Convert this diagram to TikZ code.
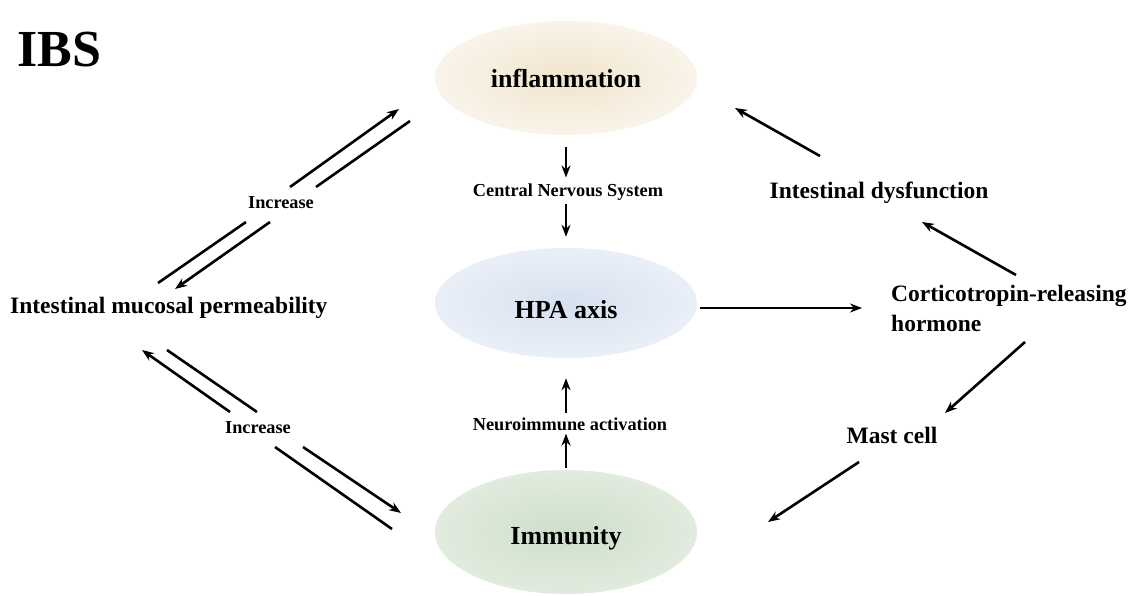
\documentclass[tikz,border=0pt]{standalone}
\usepackage{fontspec}
\setmainfont{Liberation Serif}
\usetikzlibrary{shapes.geometric,arrows.meta}
\definecolor{inflin}{RGB}{241,228,204}
\definecolor{inflout}{RGB}{249,244,234}
\definecolor{hpain}{RGB}{214,225,239}
\definecolor{hpaout}{RGB}{234,239,247}
\definecolor{immin}{RGB}{206,223,201}
\definecolor{immout}{RGB}{225,235,222}
\begin{document}
\begin{tikzpicture}[x=1pt,y=-1pt,
  arr/.style={line width=2.6pt,-{Stealth[length=12pt,width=9pt]}},
  ln/.style={line width=2.6pt},
  big/.style={font=\bfseries\fontsize{26}{30}\selectfont},
  side/.style={font=\bfseries\fontsize{23.5}{30}\selectfont,inner sep=0pt},
  small/.style={font=\bfseries\fontsize{18.3}{22}\selectfont,inner sep=0pt},
  oval/.style={ellipse,minimum width=262pt,minimum height=114pt,inner sep=0pt,shading=radial,big}]
\useasboundingbox (0,0) rectangle (1131,596);

% nodes
\node[font=\bfseries\fontsize{52}{60}\selectfont,inner sep=0pt,anchor=west] (ibs) at (17,50) {IBS};
\node[oval,inner color=inflin,outer color=inflout,text height=22pt,text depth=2pt] (infl) at (566,78) {inflammation};
\node[oval,inner color=hpain,outer color=hpaout,text height=33pt,text depth=2pt,minimum height=110pt] (hpa) at (566,303) {HPA axis};
\node[oval,inner color=immin,outer color=immout,text height=27pt,text depth=2pt,minimum height=124pt] (imm) at (566,532) {Immunity};
\node[small] (cns) at (568,192) {Central Nervous System};
\node[small] (neu) at (570,424) {Neuroimmune activation};
\node[side] (idys) at (879,193) {Intestinal dysfunction};
\node[side,align=left,anchor=west] (crh) at (891,308) {Corticotropin-releasing\\hormone};
\node[side] (mast) at (892,435) {Mast cell};
\node[side,anchor=west] (imp) at (10,308) {Intestinal mucosal permeability};
\node[small] (inc1) at (281,203) {Increase};
\node[small] (inc2) at (258,428) {Increase};

% central vertical arrows
\draw[arr,shorten <=12pt,shorten >=6pt] (infl.south) -- (infl.south |- cns.north);
\draw[arr,shorten <=3pt,shorten >=11pt] (infl.south |- cns.south) -- (hpa.north);
\draw[arr,shorten <=2pt,shorten >=3pt] (imm.north) -- (imm.north |- neu.south);
\draw[arr,shorten <=4pt,shorten >=20pt] (imm.north |- neu.north) -- (hpa.south);

% HPA to CRH
\draw[arr,shorten <=3pt,shorten >=29pt] ([yshift=-5pt]hpa.east) -- (crh.west);

% right side arrows
\coordinate (c1) at (820,156); \coordinate (c2) at (735,108);
\coordinate (c3) at (1016,275); \coordinate (c4) at (922,222);
\coordinate (c5) at (1025,342); \coordinate (c6) at (945,413);
\coordinate (c7) at (859,462); \coordinate (c8) at (768,522);
\draw[arr] (c1) -- (c2);
\draw[arr] (c3) -- (c4);
\draw[arr] (c5) -- (c6);
\draw[arr] (c7) -- (c8);

% left upper pair
\coordinate (u1a) at (158,283); \coordinate (u1b) at (246,222);
\coordinate (u1c) at (290,187); \coordinate (u1d) at (399,109);
\coordinate (u2a) at (410,121); \coordinate (u2b) at (316,187);
\coordinate (u2c) at (270,222); \coordinate (u2d) at (175,289);
\draw[ln] (u1a) -- (u1b);
\draw[arr] (u1c) -- (u1d);
\draw[ln] (u2a) -- (u2b);
\draw[arr] (u2c) -- (u2d);

% left lower pair
\coordinate (laa) at (392,529); \coordinate (lab) at (275,447);
\coordinate (lac) at (230,412); \coordinate (lad) at (142,350);
\coordinate (lba) at (167,350); \coordinate (lbb) at (257,412);
\coordinate (lbc) at (303,447); \coordinate (lbd) at (401,513);
\draw[ln] (laa) -- (lab);
\draw[arr] (lac) -- (lad);
\draw[ln] (lba) -- (lbb);
\draw[arr] (lbc) -- (lbd);
\end{tikzpicture}
\end{document}
